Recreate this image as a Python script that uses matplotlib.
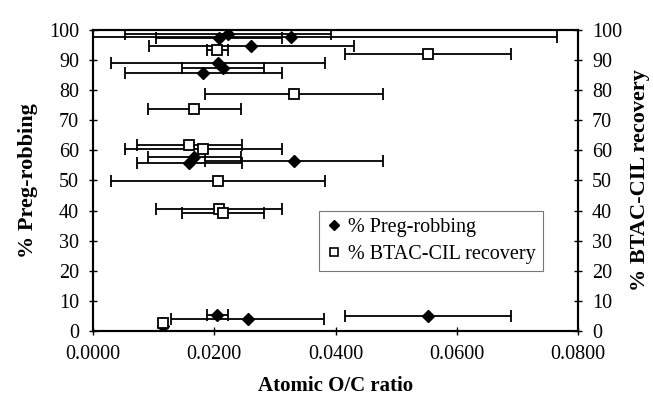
import numpy as np
import matplotlib.pyplot as plt
from matplotlib.ticker import FormatStrFormatter, MultipleLocator

plt.rcParams['font.family'] = ['Liberation Serif', 'DejaVu Serif']

# Numune verileri: atomik O/C oranı, hata payı, iki ölçüm
oc_ratio = [0.0205, 0.0552, 0.0331, 0.0167, 0.0159, 0.0182, 0.0206,
            0.0208, 0.0214, 0.0255, 0.0115, 0.0326, 0.0222, 0.0261]
oc_err = [0.0017, 0.0137, 0.0147, 0.0077, 0.0086, 0.0130, 0.0176,
          0.0104, 0.0068, 0.0126, 0.0, 0.0440, 0.0170, 0.0169]
preg_robbing = [5.3, 5.0, 56.5, 57.8, 55.8, 85.7, 89.0,
                97.5, 87.5, 4.0, 1.5, 97.7, 98.8, 94.7]
btac_recovery = [93.5, 92.0, 78.7, 73.7, 61.8, 60.5, 49.8,
                 40.5, 39.2, np.nan, 2.5, np.nan, np.nan, np.nan]

x_ticks = [0.0, 0.02, 0.04, 0.06, 0.08]

fig = plt.figure(figsize=(6.53, 4.03), dpi=100)
ax = fig.add_axes([93 / 653, 72 / 403, 485 / 653, 301 / 403])
ax2 = ax.twinx()

err_kw = dict(ecolor='black', elinewidth=1.3, capsize=4, capthick=1.3, linestyle='none')

ax.errorbar(oc_ratio, preg_robbing, xerr=oc_err, marker='D', ms=6,
            mfc='black', mec='black', zorder=3, **err_kw)
ax2.errorbar(oc_ratio, btac_recovery, xerr=oc_err, marker='s', ms=7,
             mfc='white', mec='black', mew=1.3, zorder=3, **err_kw)

ax.set_xlim(0, 0.08)
ax.set_ylim(0, 100)
ax2.set_ylim(0, 100)
ax.set_xticks(x_ticks)
ax.xaxis.set_major_formatter(FormatStrFormatter('%.4f'))
ax.yaxis.set_major_locator(MultipleLocator(10))
ax2.yaxis.set_major_locator(MultipleLocator(10))

for a in (ax, ax2):
    a.tick_params(direction='inout', length=6, width=1, labelsize=14.5, pad=7)
    for s in a.spines.values():
        s.set_linewidth(1.5)

ax.set_xlabel('Atomic O/C ratio', fontsize=15, fontweight='bold', labelpad=9)
ax.set_ylabel('% Preg-robbing', fontsize=16, fontweight='bold', labelpad=8)
ax2.set_ylabel('% BTAC-CIL recovery', fontsize=16, fontweight='bold', labelpad=6)

h1 = plt.Line2D([], [], marker='D', ms=5, color='black', linestyle='none')
h2 = plt.Line2D([], [], marker='s', ms=6, mfc='white', mec='black', mew=1.2, linestyle='none')
leg = ax2.legend([h1, h2], ['% Preg-robbing', '% BTAC-CIL recovery'],
                 loc='upper left', bbox_to_anchor=(0.466, 0.40), fontsize=14.5,
                 frameon=True, fancybox=False, edgecolor='#555555',
                 handlelength=0.8, handletextpad=0.3, borderpad=0.35,
                 labelspacing=0.4, borderaxespad=0)
leg.get_frame().set_linewidth(0.8)

plt.savefig("out.png", dpi=100)
